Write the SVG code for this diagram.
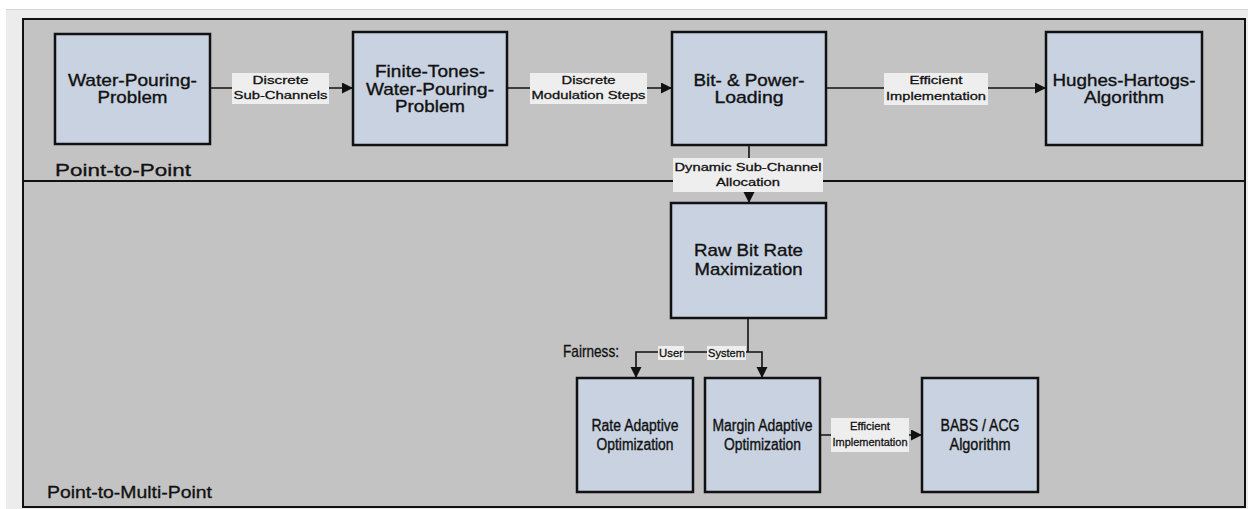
<svg xmlns="http://www.w3.org/2000/svg" width="1248" height="509" viewBox="0 0 1248 509">
  <defs>
    <marker id="ah" markerUnits="userSpaceOnUse" markerWidth="13" markerHeight="12" refX="11" refY="5.5" orient="auto">
      <path d="M0,0 L11,5.5 L0,11 z" fill="#111"/>
    </marker>
    <style>
      .node rect { fill: #c8d2e0; stroke: #111; stroke-width: 2.5; }
      .node text { font-family: "Liberation Sans", Arial, sans-serif; font-size: 17px; fill: #111; stroke: #111; stroke-width: 0.35; text-anchor: middle; }
      .node.small text { font-size: 16px; }
      .conn line, .conn path { stroke: #111; stroke-width: 1.6; fill: none; }
      .lbl rect { fill: #eeeeee; stroke: none; }
      .lbl text { font-family: "Liberation Sans", Arial, sans-serif; font-size: 11.5px; fill: #111; stroke: #111; stroke-width: 0.3; text-anchor: middle; }
      .region { font-family: "Liberation Sans", Arial, sans-serif; font-size: 17px; fill: #111; stroke: #111; stroke-width: 0.3; }
    </style>
  </defs>

  <!-- page backdrop -->
  <rect x="0" y="0" width="1248" height="509" fill="#ffffff"/>
  <rect x="6" y="9" width="1242" height="500" fill="#ececec"/>
  <line x1="6" y1="9.5" x2="1248" y2="9.5" stroke="#d6d6d6" stroke-width="1"/>

  <!-- frame with the two regions -->
  <rect x="23" y="19" width="1222" height="488" fill="#c3c3c3" stroke="#111" stroke-width="2"/>
  <line x1="23" y1="181" x2="1245" y2="181" stroke="#111" stroke-width="2"/>
  <text class="region" x="55" y="175.5" textLength="136" lengthAdjust="spacingAndGlyphs">Point-to-Point</text>
  <text class="region" x="47" y="498" textLength="165" lengthAdjust="spacingAndGlyphs">Point-to-Multi-Point</text>
  <text class="region" x="563" y="357" font-size="13" textLength="56" lengthAdjust="spacingAndGlyphs">Fairness:</text>

  <!-- connectors -->
  <g id="connectors" class="conn">
    <line x1="210" y1="88" x2="353" y2="88" marker-end="url(#ah)"/>
    <line x1="507" y1="88" x2="672" y2="88" marker-end="url(#ah)"/>
    <line x1="826" y1="88" x2="1046" y2="88" marker-end="url(#ah)"/>
    <line x1="749" y1="145" x2="749" y2="203" marker-end="url(#ah)"/>
    <line x1="748" y1="318" x2="748" y2="352"/>
    <path d="M748,352 H636 V378" marker-end="url(#ah)"/>
    <path d="M748,352 H762 V378" marker-end="url(#ah)"/>
    <line x1="820" y1="435" x2="922" y2="435" marker-end="url(#ah)"/>

    <g class="lbl">
      <rect x="232" y="73" width="97" height="31"/>
      <text x="280.5" y="84" textLength="56" lengthAdjust="spacingAndGlyphs">Discrete</text>
      <text x="280.5" y="99" textLength="94" lengthAdjust="spacingAndGlyphs">Sub-Channels</text>
    </g>
    <g class="lbl">
      <rect x="530" y="73" width="117" height="31"/>
      <text x="588.5" y="84" textLength="54" lengthAdjust="spacingAndGlyphs">Discrete</text>
      <text x="588.5" y="99" textLength="114" lengthAdjust="spacingAndGlyphs">Modulation Steps</text>
    </g>
    <g class="lbl">
      <rect x="884" y="73" width="104" height="32"/>
      <text x="936" y="84" textLength="53" lengthAdjust="spacingAndGlyphs">Efficient</text>
      <text x="936" y="100" textLength="100" lengthAdjust="spacingAndGlyphs">Implementation</text>
    </g>
    <g class="lbl">
      <rect x="673" y="158" width="150" height="34"/>
      <text x="748" y="171" textLength="147" lengthAdjust="spacingAndGlyphs">Dynamic Sub-Channel</text>
      <text x="748" y="186" textLength="64" lengthAdjust="spacingAndGlyphs">Allocation</text>
    </g>
    <g class="lbl">
      <rect x="658" y="346" width="26" height="14"/>
      <text x="671" y="357" textLength="24" lengthAdjust="spacingAndGlyphs">User</text>
    </g>
    <g class="lbl">
      <rect x="707" y="346" width="39" height="14"/>
      <text x="726.5" y="357" textLength="37" lengthAdjust="spacingAndGlyphs">System</text>
    </g>
    <g class="lbl">
      <rect x="831" y="418" width="78" height="34"/>
      <text x="870" y="430" textLength="40" lengthAdjust="spacingAndGlyphs">Efficient</text>
      <text x="870" y="446" textLength="75" lengthAdjust="spacingAndGlyphs">Implementation</text>
    </g>
  </g>

  <!-- nodes -->
  <g id="water-pouring" class="node">
    <rect x="55" y="34" width="155" height="110"/>
    <text x="132.5" y="86" textLength="129" lengthAdjust="spacingAndGlyphs">Water-Pouring-</text>
    <text x="132.5" y="103" textLength="70" lengthAdjust="spacingAndGlyphs">Problem</text>
  </g>
  <g id="finite-tones" class="node">
    <rect x="353" y="32" width="154" height="113"/>
    <text x="430" y="77" textLength="110" lengthAdjust="spacingAndGlyphs">Finite-Tones-</text>
    <text x="430" y="95" textLength="128" lengthAdjust="spacingAndGlyphs">Water-Pouring-</text>
    <text x="430" y="112" textLength="70" lengthAdjust="spacingAndGlyphs">Problem</text>
  </g>
  <g id="bit-power-loading" class="node">
    <rect x="672" y="32" width="154" height="113"/>
    <text x="749" y="86" textLength="111" lengthAdjust="spacingAndGlyphs">Bit- &amp; Power-</text>
    <text x="749" y="103" textLength="69" lengthAdjust="spacingAndGlyphs">Loading</text>
  </g>
  <g id="hughes-hartogs" class="node">
    <rect x="1046" y="32" width="156" height="113"/>
    <text x="1124" y="86" textLength="143" lengthAdjust="spacingAndGlyphs">Hughes-Hartogs-</text>
    <text x="1124" y="103" textLength="80" lengthAdjust="spacingAndGlyphs">Algorithm</text>
  </g>
  <g id="raw-bit-rate" class="node">
    <rect x="671" y="203" width="155" height="115"/>
    <text x="748.5" y="256" textLength="109" lengthAdjust="spacingAndGlyphs">Raw Bit Rate</text>
    <text x="748.5" y="275" textLength="108" lengthAdjust="spacingAndGlyphs">Maximization</text>
  </g>
  <g id="rate-adaptive" class="node small">
    <rect x="577" y="378" width="116" height="114"/>
    <text x="635" y="431" textLength="87" lengthAdjust="spacingAndGlyphs">Rate Adaptive</text>
    <text x="635" y="450" textLength="77" lengthAdjust="spacingAndGlyphs">Optimization</text>
  </g>
  <g id="margin-adaptive" class="node small">
    <rect x="705" y="378" width="115" height="114"/>
    <text x="762.5" y="431" textLength="100" lengthAdjust="spacingAndGlyphs">Margin Adaptive</text>
    <text x="762.5" y="450" textLength="77" lengthAdjust="spacingAndGlyphs">Optimization</text>
  </g>
  <g id="babs-acg" class="node small">
    <rect x="922" y="378" width="116" height="114"/>
    <text x="980" y="431" textLength="79" lengthAdjust="spacingAndGlyphs">BABS / ACG</text>
    <text x="980" y="450" textLength="61" lengthAdjust="spacingAndGlyphs">Algorithm</text>
  </g>
</svg>
